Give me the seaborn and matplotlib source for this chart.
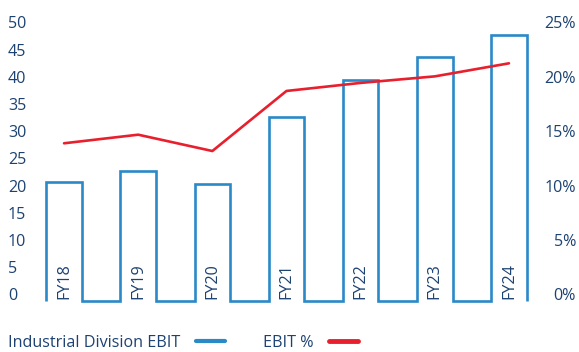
import matplotlib
matplotlib.use('Agg')
import matplotlib.pyplot as plt
from matplotlib.lines import Line2D
import seaborn as sns
import pandas as pd
import numpy as np

# ---- data ----
years = ['FY18', 'FY19', 'FY20', 'FY21', 'FY22', 'FY23', 'FY24']
ebit = [21.7, 23.8, 21.4, 33.8, 40.6, 44.7, 48.8]
ebit_pct = [14.45, 15.24, 13.74, 19.26, 20.0, 20.6, 21.8]
left_ticks = [0, 5, 10, 15, 20, 25, 30, 35, 40, 45, 50]
right_ticks = [0, 5, 10, 15, 20, 25]
right_labels = ['0%', '5%', '10%', '15%', '20%', '25%']
legend_labels = ['Industrial Division EBIT', 'EBIT %']

BLUE = '#2a8ac8'
RED = '#e8202e'
TEXT = '#1d4272'

sns.set_theme(style='white')
plt.rcParams['font.family'] = ['Open Sans', 'DejaVu Sans']

W, H = 579, 352
fig = plt.figure(figsize=(W / 100, H / 100), dpi=100)
ax = fig.add_axes([45.5 / W, 51.5 / H, 482 / W, 272 / H])

df = pd.DataFrame({'year': years, 'ebit': ebit, 'pct': ebit_pct,
                   'pos': np.arange(len(years))})
sns.barplot(data=df, x='year', y='ebit', ax=ax, width=0.48,
            color=BLUE, saturation=1)

# turn bars into one continuous open outline (no bottoms, baseline between bars)
xs, ys = [], []
for p in ax.patches:
    x0 = p.get_x()
    x1 = x0 + p.get_width()
    h = p.get_height()
    xs += [x0, x0, x1, x1]
    ys += [0, h, h, 0]
    p.set_visible(False)
ax.plot(xs, ys, color=BLUE, lw=1.9, clip_on=False, solid_joinstyle='miter',
        solid_capstyle='butt')

ax.set_xlim(-0.25, len(years) - 0.75)
ax.set_ylim(0, 50)
ax.set_xlabel('')
ax.set_ylabel('')

ax2 = ax.twinx()
sns.lineplot(data=df, x='pos', y='pct', ax=ax2, color=RED, lw=1.9)
ax2.set_ylim(0, 25)
ax2.set_xlim(-0.25, len(years) - 0.75)
ax2.set_xlabel('')
ax2.set_ylabel('')

for a in (ax, ax2):
    for s in a.spines.values():
        s.set_visible(False)
    a.grid(False)

FS = 11.6
ax.set_yticks(left_ticks)
ax.set_yticklabels([str(t) for t in left_ticks])
ax.tick_params(axis='y', length=0, pad=27, labelsize=FS, labelcolor=TEXT)
for lbl in ax.get_yticklabels():
    lbl.set_ha('left')
    lbl.set_va('baseline')

ax2.set_yticks(right_ticks)
ax2.set_yticklabels(right_labels)
ax2.tick_params(axis='y', length=0, pad=35, labelsize=FS, labelcolor=TEXT)
for lbl in ax2.get_yticklabels():
    lbl.set_ha('right')
    lbl.set_va('baseline')

ax.set_xticks(range(len(years)))
ax.set_xticklabels(years, rotation=90)
ax.tick_params(axis='x', length=0, pad=-1, labelsize=FS, labelcolor=TEXT)
for lbl in ax.get_xticklabels():
    lbl.set_va('bottom')
    lbl.set_ha('center')

handles = [Line2D([], [], color=BLUE, lw=3),
           Line2D([], [], color=RED, lw=3.5)]
fig.legend(handles=handles, labels=legend_labels, markerfirst=False, ncol=2,
           frameon=False, loc='center left', bbox_to_anchor=(8 / W, 9 / H),
           handlelength=1.8, handletextpad=0.95, columnspacing=2.4,
           borderpad=0, borderaxespad=0, fontsize=FS, labelcolor=TEXT)

fig.savefig('out.png', dpi=100)
